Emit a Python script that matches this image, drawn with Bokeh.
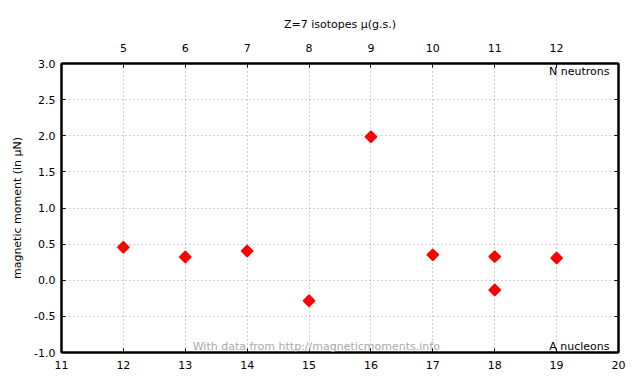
from bokeh.plotting import figure
from bokeh.models import Range1d, LinearAxis, FixedTicker, Label, ColumnDataSource, CustomJSTickFormatter
from bokeh.embed import file_html
from bokeh.resources import INLINE
import math

Z = 7
A_values = [12, 13, 14, 15, 16, 17, 18, 18, 19]
mu_values = [0.457, 0.322, 0.404, -0.283, 1.986, 0.352, 0.327, -0.135, 0.308]
x_ticks = [11, 12, 13, 14, 15, 16, 17, 18, 19, 20]
n_ticks = [5, 6, 7, 8, 9, 10, 11, 12]
y_ticks = [-1.0, -0.5, 0.0, 0.5, 1.0, 1.5, 2.0, 2.5, 3.0]

FONT = "DejaVu Sans"
FS = "11px"

p = figure(width=632, height=376, output_backend="svg", toolbar_location=None,
           x_range=Range1d(11, 20), y_range=Range1d(-1, 3),
           x_axis_location=None, y_axis_location=None,
           title="Z=7 isotopes \u03bc(g.s.)",
           min_border_left=61, min_border_right=14, min_border_top=63, min_border_bottom=24)
p.title.align = "center"
p.title.text_font = FONT
p.title.text_font_size = FS
p.title.text_font_style = "normal"
p.title.text_color = "black"
p.title.offset = 0
p.title.standoff = 19

p.extra_x_ranges = {"n": Range1d(11 - Z, 20 - Z)}

bottom = LinearAxis(ticker=FixedTicker(ticks=x_ticks, minor_ticks=[]))
top = LinearAxis(x_range_name="n", ticker=FixedTicker(ticks=n_ticks, minor_ticks=[]))
left = LinearAxis(ticker=FixedTicker(ticks=y_ticks, minor_ticks=[]),
                  formatter=CustomJSTickFormatter(code="return tick.toFixed(1)"))
right = LinearAxis(ticker=FixedTicker(ticks=y_ticks, minor_ticks=[]),
                   formatter=CustomJSTickFormatter(code="return ''"))
p.add_layout(bottom, "below")
p.add_layout(top, "above")
p.add_layout(left, "left")
p.add_layout(right, "right")

left.axis_label = "magnetic moment (in \u03bcN)"
left.axis_label_text_font = FONT
left.axis_label_text_font_size = FS
left.axis_label_text_font_style = "normal"
left.axis_label_text_color = "black"
left.axis_label_standoff = 7

for ax in (bottom, top, left, right):
    ax.major_tick_in = 4
    ax.major_tick_out = 0
    ax.minor_tick_in = 0
    ax.minor_tick_out = 0
    ax.axis_line_color = "black"
    ax.axis_line_width = 2
    ax.major_tick_line_color = "black"
    ax.major_tick_line_width = 1
    ax.major_label_text_font = FONT
    ax.major_label_text_font_size = FS
    ax.major_label_standoff = 6
    ax.major_label_text_color = "black"
right.major_label_standoff = 0
top.major_label_standoff = 12
bottom.major_label_standoff = 8

p.outline_line_color = "black"
p.outline_line_width = 2

p.xgrid.ticker = FixedTicker(ticks=x_ticks[1:-1], minor_ticks=[])
p.ygrid.ticker = FixedTicker(ticks=y_ticks[1:-1], minor_ticks=[])
for g in (p.xgrid, p.ygrid):
    g.grid_line_color = "#a0a0a0"
    g.grid_line_dash = "1 3"
    g.grid_line_width = 1

src = ColumnDataSource(dict(A=A_values, mu=mu_values))
p.scatter("A", "mu", source=src, marker="square", angle=math.pi / 4, size=8,
          fill_color="red", line_color="red", line_width=1.5)

p.add_layout(Label(x=20, y=3, x_offset=-9, y_offset=-1, text="N neutrons",
                   text_align="right", text_baseline="top",
                   text_font=FONT, text_font_size=FS, text_color="black"))
p.add_layout(Label(x=20, y=-1, x_offset=-9, y_offset=0, text="A nucleons",
                   text_align="right", text_baseline="bottom",
                   text_font=FONT, text_font_size=FS, text_color="black"))
p.add_layout(Label(x=13.12, y=-1, x_offset=0, y_offset=0,
                   text="With data from http://magneticmoments.info",
                   text_align="left", text_baseline="bottom",
                   text_font=FONT, text_font_size=FS, text_color="#a8a8a8"))

open("out.html", "w").write(file_html(p, INLINE))
